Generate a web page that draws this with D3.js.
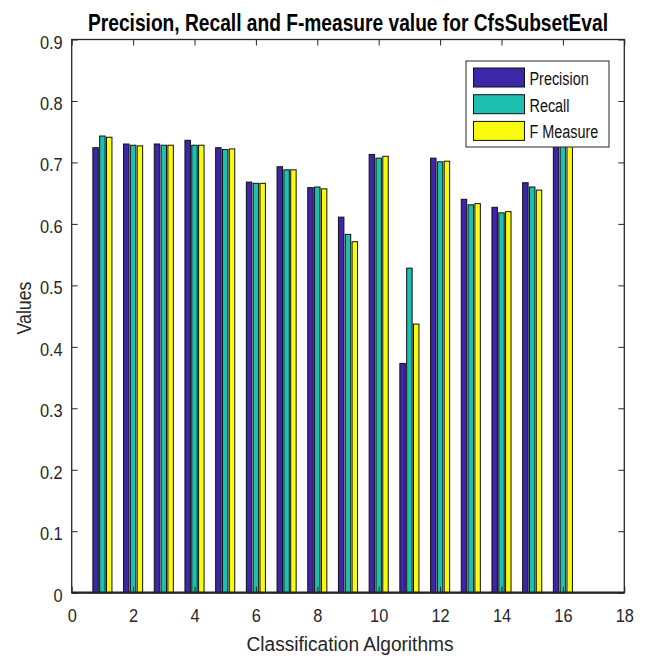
<!DOCTYPE html>
<html>
<head>
<meta charset="utf-8">
<script src="https://cdn.jsdelivr.net/npm/d3@7"></script>
<style>
  body { margin: 0; background: #fff; }
  text { font-family: "Liberation Sans", Arial, Helvetica, sans-serif; }
</style>
</head>
<body>
<svg id="chart" width="648" height="659"></svg>
<script>
// Algorithm index on the x axis
const algorithms = [1, 2, 3, 4, 5, 6, 7, 8, 9, 10, 11, 12, 13, 14, 15, 16];

// Scores per algorithm
const precision = [0.724, 0.730, 0.730, 0.736, 0.724, 0.668, 0.693, 0.659, 0.611, 0.713, 0.373, 0.707, 0.640, 0.627, 0.667, 0.790];
const recall    = [0.743, 0.728, 0.728, 0.728, 0.721, 0.666, 0.688, 0.660, 0.583, 0.707, 0.528, 0.701, 0.631, 0.618, 0.660, 0.780];
const fMeasure  = [0.741, 0.727, 0.728, 0.728, 0.722, 0.666, 0.688, 0.657, 0.571, 0.710, 0.437, 0.702, 0.633, 0.620, 0.655, 0.780];

const seriesNames  = ["Precision", "Recall", "F Measure"];
const seriesColors = ["#3E26A8", "#1DBFB0", "#F9FB0E"];

const xTicks = [0, 2, 4, 6, 8, 10, 12, 14, 16, 18];
const yTicks = [0, 0.1, 0.2, 0.3, 0.4, 0.5, 0.6, 0.7, 0.8, 0.9];

const titleText = "Precision, Recall and F-measure value for CfsSubsetEval";
const xLabel = "Classification Algorithms";
const yLabel = "Values";

const series = [precision, recall, fMeasure];

const svg = d3.select("#chart");

const plotLeft = 71.7, plotRight = 624.3, plotTop = 39.5, plotBottom = 592.7;
const x = d3.scaleLinear().domain([0, 18]).range([plotLeft, plotRight]);
const y = d3.scaleLinear().domain([0, 0.9]).range([plotBottom, plotTop]);

// grouped bar geometry (in x units)
const groupOffsets = [-0.222, 0, 0.222];
const barWidth = 0.178;

// compress text horizontally to a given factor
function squeeze(sel, k) {
  sel.each(function () {
    const w = this.getComputedTextLength();
    d3.select(this).attr("textLength", w * k).attr("lengthAdjust", "spacingAndGlyphs");
  });
}

// bars
const barsG = svg.append("g");
series.forEach((vals, si) => {
  barsG.selectAll(null)
    .data(algorithms.map((a, i) => ({ a, v: vals[i] })))
    .join("rect")
    .attr("x", d => x(d.a + groupOffsets[si] - barWidth / 2))
    .attr("y", d => y(d.v))
    .attr("width", d => x(d.a + groupOffsets[si] + barWidth / 2) - x(d.a + groupOffsets[si] - barWidth / 2))
    .attr("height", d => y(0) - y(d.v))
    .attr("fill", seriesColors[si])
    .attr("stroke", "#111")
    .attr("stroke-width", 1);
});

// baseline
svg.append("line")
  .attr("x1", x(0)).attr("x2", x(18))
  .attr("y1", y(0)).attr("y2", y(0))
  .attr("stroke", "#222").attr("stroke-width", 2.2);

// axes with inward ticks
const tickColor = "#262626";
const axB = svg.append("g").attr("transform", `translate(0,${plotBottom})`)
  .call(d3.axisBottom(x).tickValues(xTicks).tickSize(-6).tickPadding(16).tickFormat(d3.format("d")));
const axT = svg.append("g").attr("transform", `translate(0,${plotTop})`)
  .call(d3.axisTop(x).tickValues(xTicks).tickSize(-6).tickFormat(""));
const axL = svg.append("g").attr("transform", `translate(${plotLeft},0)`)
  .call(d3.axisLeft(y).tickValues(yTicks).tickSize(-6).tickPadding(9).tickFormat(d => d === 0 ? "0" : d3.format(".1f")(d)));
const axR = svg.append("g").attr("transform", `translate(${plotRight},0)`)
  .call(d3.axisRight(y).tickValues(yTicks).tickSize(-6).tickFormat(""));

[axB, axT, axL, axR].forEach(g => {
  g.select(".domain").remove();
  g.selectAll(".tick line").attr("stroke", tickColor).attr("stroke-width", 1);
  g.selectAll(".tick text").attr("fill", tickColor).attr("font-size", 19)
    .attr("font-family", "'Liberation Sans', Arial, sans-serif");
});
axL.selectAll(".tick text").attr("dy", "0.45em");
squeeze(axB.selectAll(".tick text"), 0.86);
squeeze(axL.selectAll(".tick text"), 0.86);

// frame
svg.append("rect")
  .attr("x", plotLeft).attr("y", plotTop)
  .attr("width", plotRight - plotLeft).attr("height", plotBottom - plotTop)
  .attr("fill", "none").attr("stroke", tickColor).attr("stroke-width", 1.3);

// title
svg.append("text")
  .attr("x", (plotLeft + plotRight) / 2).attr("y", 31)
  .attr("text-anchor", "middle")
  .attr("font-size", 23).attr("font-weight", "bold").attr("fill", "#000")
  .attr("textLength", 520).attr("lengthAdjust", "spacingAndGlyphs")
  .text(titleText);

// axis labels
svg.append("text")
  .attr("x", 350).attr("y", 651)
  .attr("text-anchor", "middle")
  .attr("font-size", 20).attr("fill", tickColor)
  .attr("textLength", 207).attr("lengthAdjust", "spacingAndGlyphs")
  .text(xLabel);

svg.append("text")
  .attr("transform", `translate(31,308) rotate(-90)`)
  .attr("text-anchor", "middle")
  .attr("font-size", 20).attr("fill", tickColor)
  .attr("textLength", 53).attr("lengthAdjust", "spacingAndGlyphs")
  .text(yLabel);

// legend
const legend = svg.append("g");
legend.append("rect")
  .attr("x", 466).attr("y", 61).attr("width", 143).attr("height", 86)
  .attr("fill", "#fff").attr("stroke", tickColor).attr("stroke-width", 1);
const items = legend.selectAll("g.item").data(seriesNames).join("g")
  .attr("class", "item")
  .attr("transform", (d, i) => `translate(0,${68 + i * 26.7})`);
items.append("rect")
  .attr("x", 473.5).attr("y", 0).attr("width", 51).attr("height", 19)
  .attr("fill", (d, i) => seriesColors[i])
  .attr("stroke", "#111").attr("stroke-width", 1);
const legendTexts = items.append("text")
  .attr("x", 529.5).attr("y", 17)
  .attr("font-size", 18).attr("fill", "#111")
  .text(d => d);
squeeze(legendTexts, 0.8);
</script>
</body>
</html>
